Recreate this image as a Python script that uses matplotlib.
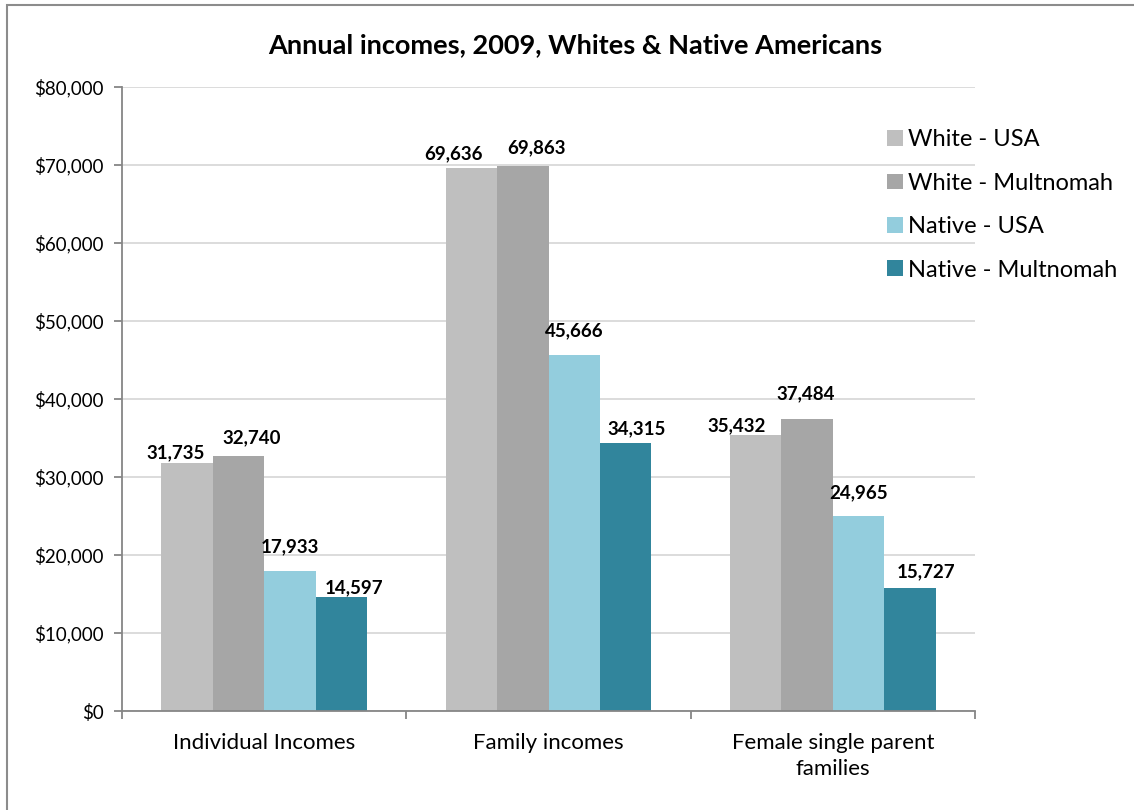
import numpy as np
import matplotlib.pyplot as plt
from matplotlib.patches import Rectangle

categories = ['Individual Incomes', 'Family incomes', 'Female single parent\nfamilies']
series_names = ['White - USA', 'White - Multnomah', 'Native - USA', 'Native - Multnomah']
white_usa = [31735, 69636, 35432]
white_mult = [32740, 69863, 37484]
native_usa = [17933, 45666, 24965]
native_mult = [14597, 34315, 15727]
colors = ['#BFBFBF', '#A6A6A6', '#93CDDD', '#31859C']

# label nudges in pixels (dx, height of text centre above bar top), like Excel placed them
label_dx = [[-11, -18, -19], [13, 14, -1], [0, 0, 0], [13, 11, 16]]
label_dy = [[11, 14, 9], [18, 18, 25], [24, 24, 24], [9, 15, 17]]

plt.rcParams['font.family'] = ['Lato', 'DejaVu Sans']

fig = plt.figure(figsize=(11.34, 8.1), dpi=100)
ax = fig.add_axes([0.1076, 0.1222, 0.7522, 0.7704])

# chart frame
fig.patches.append(Rectangle((7 / 1134, -0.05), 1.2, 1 - 5 / 810 + 0.05,
                             transform=fig.transFigure, fill=False,
                             edgecolor='#8C8C8C', linewidth=1.5))

x = np.arange(len(categories))
w = 0.181
all_series = [white_usa, white_mult, native_usa, native_mult]
for i, (vals, name, c) in enumerate(zip(all_series, series_names, colors)):
    pos = x + (i - 1.5) * w
    bars = ax.bar(pos, vals, width=w, color=c, label=name, zorder=2)
    for j, (b, v) in enumerate(zip(bars, vals)):
        ax.annotate(f'{v:,}', (b.get_x() + b.get_width() / 2, v),
                    xytext=(label_dx[i][j], label_dy[i][j]), textcoords='offset pixels',
                    ha='center', va='center', fontsize=13.5, fontweight='bold', zorder=3)

ax.set_xlim(-0.5, 2.5)
ax.set_ylim(0, 80000)
ax.set_yticks(range(0, 80001, 10000))
ax.set_yticklabels([f'${v:,}' for v in range(0, 80001, 10000)], fontsize=13.5)
ax.yaxis.grid(True, color='#D9D9D9', linewidth=1.3, zorder=0)
ax.set_axisbelow(True)

ax.set_xticks([-0.5, 0.5, 1.5, 2.5])
ax.set_xticklabels([])
ax.set_xticks(x, minor=True)
ax.set_xticklabels(categories, minor=True, fontsize=16, linespacing=1.35)
ax.tick_params(axis='x', which='minor', length=0, pad=16)
ax.tick_params(axis='x', which='major', length=6, color='#868686', width=1.3)
ax.tick_params(axis='y', length=6, color='#868686', width=1.3, pad=7)

for s in ['top', 'right']:
    ax.spines[s].set_visible(False)
for s in ['left', 'bottom']:
    ax.spines[s].set_color('#868686')
    ax.spines[s].set_linewidth(1.3)

fig.text(0.507, 0.944, 'Annual incomes, 2009, Whites & Native Americans',
         ha='center', va='center', fontsize=19.5, fontweight='bold')

ax.legend(loc='upper left', bbox_to_anchor=(0.774, 0.852), bbox_transform=fig.transFigure,
          frameon=False, fontsize=17, handlelength=0.65, handleheight=0.65,
          handletextpad=0.25, labelspacing=0.95, borderaxespad=0)

fig.savefig('out.png', dpi=100)
